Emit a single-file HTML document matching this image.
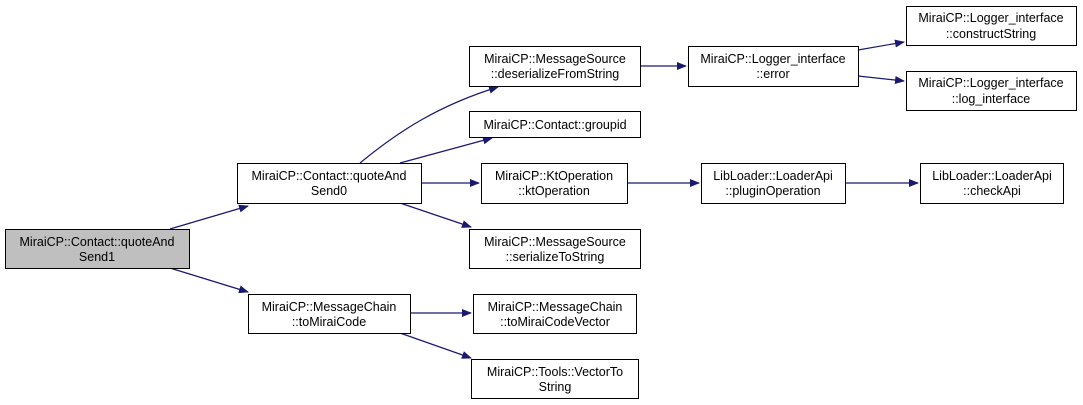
<!DOCTYPE html>
<html><head><meta charset="utf-8"><style>body{margin:0;background:#fff}svg{display:block}text{font-family:"Liberation Sans",Arial,sans-serif;font-size:12.5px;fill:#000}</style></head><body>
<svg width="1083" height="405" viewBox="0 0 1083 405">
<defs><marker id="a" markerWidth="10" markerHeight="8" refX="9" refY="4" orient="auto" markerUnits="userSpaceOnUse"><path d="M0,0 L10,4 L0,8 Z" fill="#191970"/></marker></defs>
<g stroke="#191970" stroke-width="1.2" fill="none" marker-end="url(#a)">
<path d="M170,229 L248,206"/>
<path d="M170,268 L248,292"/>
<path d="M360,163 C400,130 440,105 498,87"/>
<path d="M400,163 L492,138"/>
<path d="M421,183 L479,183"/>
<path d="M400,203 L471,227"/>
<path d="M410,313 L471,313"/>
<path d="M400,333 L471,358"/>
<path d="M640,66 L686,66"/>
<path d="M858,50 L904,42"/>
<path d="M858,76 L904,81"/>
<path d="M627,183 L699,183"/>
<path d="M845,183 L918,183"/>
</g>
<g stroke="#000" stroke-width="1" fill="#fff">
<rect x="5.5" y="229.5" width="184" height="39" fill="#bfbfbf"/>
<rect x="237.5" y="163.5" width="184" height="40"/>
<rect x="248.5" y="294.5" width="162" height="39"/>
<rect x="469.5" y="46.5" width="171" height="40"/>
<rect x="469.5" y="111.5" width="171" height="26"/>
<rect x="481.5" y="163.5" width="146" height="40"/>
<rect x="469.5" y="229.5" width="171" height="39"/>
<rect x="473.5" y="294.5" width="163" height="39"/>
<rect x="471.5" y="359.5" width="167" height="39"/>
<rect x="688.5" y="46.5" width="170" height="40"/>
<rect x="906.5" y="6.5" width="170" height="39"/>
<rect x="906.5" y="71.5" width="170" height="39"/>
<rect x="701.5" y="163.5" width="144" height="40"/>
<rect x="920.5" y="163.5" width="143" height="40"/>
</g>
<g text-anchor="middle">
<text x="97" y="246">MiraiCP::Contact::quoteAnd</text><text x="97" y="261">Send1</text>
<text x="329" y="180">MiraiCP::Contact::quoteAnd</text><text x="329" y="195">Send0</text>
<text x="329" y="311">MiraiCP::MessageChain</text><text x="329" y="326">::toMiraiCode</text>
<text x="555" y="63">MiraiCP::MessageSource</text><text x="555" y="78">::deserializeFromString</text>
<text x="555" y="129">MiraiCP::Contact::groupid</text>
<text x="554" y="180">MiraiCP::KtOperation</text><text x="554" y="195">::ktOperation</text>
<text x="555" y="246">MiraiCP::MessageSource</text><text x="555" y="261">::serializeToString</text>
<text x="555" y="311">MiraiCP::MessageChain</text><text x="555" y="326">::toMiraiCodeVector</text>
<text x="555" y="376">MiraiCP::Tools::VectorTo</text><text x="555" y="391">String</text>
<text x="773" y="63">MiraiCP::Logger_interface</text><text x="773" y="78">::error</text>
<text x="991" y="22">MiraiCP::Logger_interface</text><text x="991" y="38">::constructString</text>
<text x="991" y="87">MiraiCP::Logger_interface</text><text x="991" y="103">::log_interface</text>
<text x="773" y="180">LibLoader::LoaderApi</text><text x="773" y="195">::pluginOperation</text>
<text x="992" y="180">LibLoader::LoaderApi</text><text x="992" y="195">::checkApi</text>
</g>
</svg>
</body></html>
